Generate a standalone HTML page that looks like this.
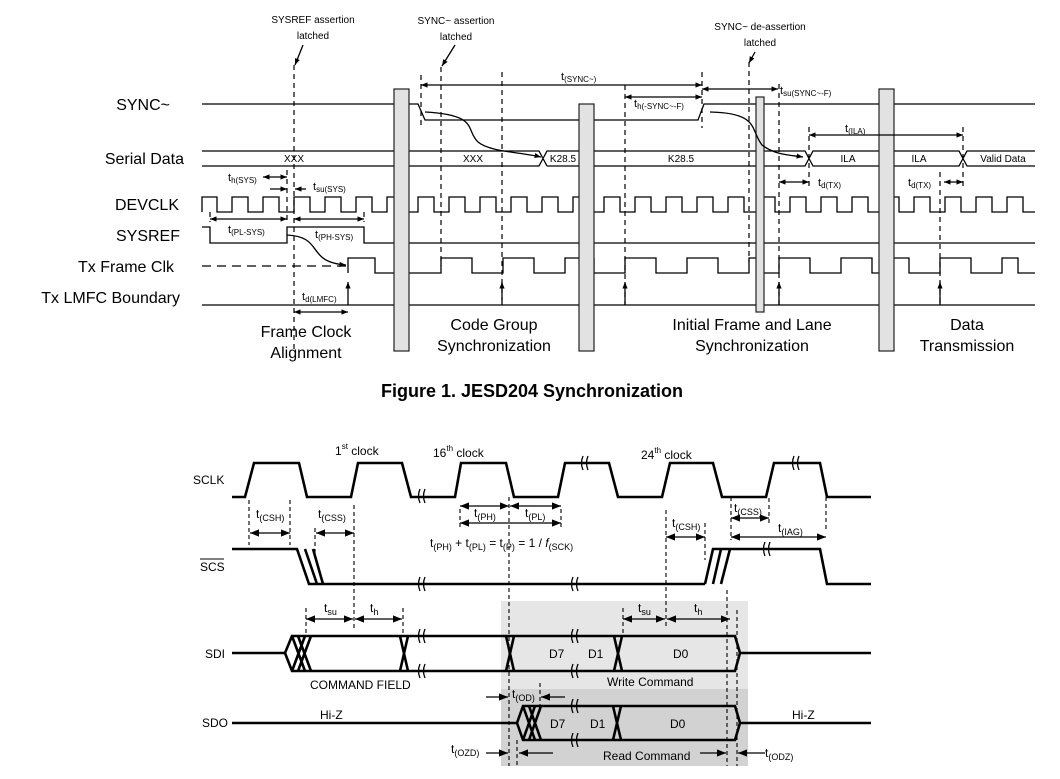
<!DOCTYPE html>
<html><head><meta charset="utf-8"><style>
html,body{margin:0;padding:0;background:#fff;}
svg{display:block;font-family:"Liberation Sans",Arial,sans-serif;}
</style></head><body>
<svg width="1060" height="779" viewBox="0 0 1060 779" xmlns="http://www.w3.org/2000/svg">
<defs>
<marker id="a" viewBox="0 0 10 10" refX="10" refY="5" markerWidth="7" markerHeight="7" orient="auto-start-reverse"><path d="M0,1 L10,5 L0,9 z" fill="#000"/></marker>
<marker id="b" viewBox="0 0 10 10" refX="10" refY="5" markerWidth="5" markerHeight="5" orient="auto-start-reverse"><path d="M0,1 L10,5 L0,9 z" fill="#000"/></marker>
</defs>
<g fill="#000" font-size="16" text-anchor="end">
<text x="170" y="110">SYNC~</text><text x="184" y="164">Serial Data</text><text x="179" y="210">DEVCLK</text>
<text x="180" y="241">SYSREF</text><text x="174" y="272">Tx Frame Clk</text><text x="180" y="303">Tx LMFC Boundary</text>
</g>
<g fill="none" stroke="#000" stroke-width="1.3">
<path d="M202,104 H394 M409,104 H418 L425,120 H579 M594,120 H698 L704,104 H756 M764,104 H879 M894,104 H1035"/>
<path d="M202,151 H394 M202,166 H394 M409,151 H539 L547,166 M409,166 H539 L547,151 H579 M547,166 H579 M594,151 H756 M594,166 H756 M764,151 H805 L813,166 H879 M764,166 H805 L813,151 H879 M894,151 H959 L967,166 H1035 M894,166 H959 L967,151 H1035"/>
<!-- DEVCLK -->
<path d="M202,212 V197 H217 V212 H232 V197 H248 V212 H263 V197 H279 V212 H294 V197 H310 V212 H325 V197 H341 V212 H356 V197 H372 V212 H387 V197 H394
M409,212 H418 V197 H434 V212 H449 V197 H465 V212 H480 V197 H496 V212 H511 V197 H527 V212 H542 V197 H558 V212 H573 V197 H579
M594,212 H604 V197 H620 V212 H635 V197 H651 V212 H666 V197 H682 V212 H697 V197 H713 V212 H728 V197 H744 V212 H756
M764,197 H775 V212 H790 V197 H806 V212 H821 V197 H837 V212 H852 V197 H868 V212 H879
M894,197 H899 V212 H914 V197 H930 V212 H945 V197 H961 V212 H976 V197 H992 V212 H1007 V197 H1023 V212 H1035"/>
<path d="M202,227 H210 V243 H287 V227 H364 V243 H394 M409,243 H579 M594,243 H756 M764,243 H879 M894,243 H1035"/>
<path d="M202,266 H347" stroke-dasharray="9,6"/>
<path d="M348,273 V258 H375 V273 H394 M409,273 H441 V258 H472 V273 H503 V258 H534 V273 H565 V258 H579 M594,258 H594 V273 H625 V258 H656 V273 H687 V258 H718 V273 H749 V258 H756 M764,273 H779 V258 H810 V273 H841 V258 H872 V273 H879 M894,258 H909 V273 H940 V258 H971 V273 H1002 V258 H1018 V273 H1035"/>
<path d="M202,305 H394 M409,305 H579 M594,305 H756 M764,305 H879 M894,305 H1035"/>
</g>
<g stroke="#000" stroke-width="1.2" stroke-dasharray="5,4" fill="none">
<path d="M294,65 V352 M421,75 V128 M441,67 V266 M502,72 V300 M625,85 V305 M702,72 V128 M749,62 V262 M779,84 V305 M809,127 V190 M940,172 V305 M963,127 V190 M287,170 V222 M210,212 V222 M364,212 V222"/>
</g>
<g fill="#e2e2e2" stroke="#222" stroke-width="1.2">
<rect x="394" y="89" width="15" height="262"/><rect x="579" y="104" width="15" height="247"/>
<rect x="756" y="97" width="8" height="215"/><rect x="879" y="89" width="15" height="262"/>
</g>
<g stroke="#000" stroke-width="1.3" fill="none" marker-start="url(#b)" marker-end="url(#b)">
<path d="M421,85 H702"/><path d="M625,97 H702"/><path d="M702,89 H778"/>
<path d="M809,135 H963"/><path d="M779,182 H809"/><path d="M944,182 H963"/>
<path d="M263,177 H287"/><path d="M210,219 H287"/><path d="M294,219 H364"/><path d="M294,312 H348"/>
</g>
<g stroke="#000" stroke-width="1.3" fill="none" marker-end="url(#b)">
<path d="M270,189 H287"/><path d="M306,189 H295"/>
<path d="M303,45 L295,65"/><path d="M455,45 L442,66"/><path d="M755,52 L749,63"/>
<path d="M348,305 V282"/><path d="M502,305 V282"/><path d="M625,305 V282"/><path d="M779,305 V282"/><path d="M940,305 V282"/>
<path d="M287,235 C325,237 305,262 346,265"/>
<path d="M425,112 C480,115 465,130 478,142 C490,152 520,152 541,157"/>
<path d="M710,112 C760,113 750,130 762,145 C775,155 790,155 803,157"/>
</g>
<g fill="#000" font-size="10" text-anchor="middle">
<text x="313" y="23">SYSREF assertion</text><text x="313" y="39">latched</text>
<text x="456" y="24">SYNC~ assertion</text><text x="456" y="40">latched</text>
<text x="760" y="30">SYNC~ de-assertion</text><text x="760" y="46">latched</text>
<text x="294" y="162">XXX</text><text x="473" y="162">XXX</text><text x="563" y="162">K28.5</text><text x="681" y="162">K28.5</text>
<text x="848" y="162">ILA</text><text x="919" y="162">ILA</text><text x="1003" y="162">Valid Data</text>
</g>
<g fill="#000" font-size="11">
<text x="561" y="80">t<tspan font-size="8" dy="2">(SYNC~)</tspan></text>
<text x="634" y="107">t<tspan font-size="8" dy="2">h(-SYNC~-F)</tspan></text>
<text x="780" y="94">t<tspan font-size="8" dy="2">su(SYNC~-F)</tspan></text>
<text x="845" y="132">t<tspan font-size="8" dy="2">(ILA)</tspan></text>
<text x="818" y="186">t<tspan font-size="8" dy="2">d(TX)</tspan></text>
<text x="908" y="186">t<tspan font-size="8" dy="2">d(TX)</tspan></text>
<text x="228" y="181">t<tspan font-size="8" dy="2">h(SYS)</tspan></text>
<text x="313" y="190">t<tspan font-size="8" dy="2">su(SYS)</tspan></text>
<text x="228" y="233">t<tspan font-size="8" dy="2">(PL-SYS)</tspan></text>
<text x="315" y="238">t<tspan font-size="8" dy="2">(PH-SYS)</tspan></text>
<text x="302" y="300">t<tspan font-size="8" dy="2">d(LMFC)</tspan></text>
</g>
<g fill="#000" font-size="16" text-anchor="middle">
<text x="306" y="337">Frame Clock</text><text x="306" y="358">Alignment</text>
<text x="494" y="330">Code Group</text><text x="494" y="351">Synchronization</text>
<text x="752" y="330">Initial Frame and Lane</text><text x="752" y="351">Synchronization</text>
<text x="967" y="330">Data</text><text x="967" y="351">Transmission</text>
<text x="532" y="397" font-size="18" font-weight="bold">Figure 1.  JESD204 Synchronization</text>
</g>

<rect x="501" y="601" width="247" height="89" fill="#e6e6e6"/>
<rect x="501" y="689" width="247" height="77" fill="#d2d2d2"/>
<g fill="#000" font-size="12">
<text x="193" y="484">SCLK</text>
<text x="200" y="571">SCS</text>
<text x="205" y="658">SDI</text>
<text x="202" y="727">SDO</text>
</g>
<path d="M200,559 H224" stroke="#000" stroke-width="1"/>
<g fill="none" stroke="#000" stroke-width="2.6" stroke-linejoin="miter">
<path d="M232,497 H245 L254,463 H299 L307,497 H351 L358,463 H402 L411,497 H455 L461,463 H506 L514,497 H558 L565,463 H609 L618,497 H662 L670,463 H713 L722,497 H766 L774,463 H820 L827,497 H871"/>
<path d="M232,549 H297 L309,584 H705 M305,549 L317,584 M313,549 L323,584 M705,584 L713,549 H820 L827,584 H871 M713,584 L721,549 M721,584 L730,549"/>
<path d="M232,653 H285 L292,636 H735 L740,653 L735,671 H292 L285,653 M740,653 H871"/>
<path d="M292,636 L305,671 M292,671 L305,636 M298,636 L311,671 M298,671 L311,636 M400,636 L408,671 M400,671 L408,636 M506,636 L514,671 M506,671 L514,636 M614,636 L622,671 M614,671 L622,636"/>
<path d="M232,723 H517 L523,706 H735 L740,723 L735,740 H523 L517,723 M740,723 H871"/>
<path d="M523,706 L535,740 M523,740 L535,706 M529,706 L541,740 M529,740 L541,706 M613,706 L621,740 M613,740 L621,706"/>
</g>
<g fill="none" stroke="#000" stroke-width="1.3">
<path d="M420,489 q-3,7 0,14 M425,489 q-3,7 0,14 M583,456 q-3,7 0,14 M588,456 q-3,7 0,14 M794,456 q-3,7 0,14 M799,456 q-3,7 0,14"/>
<path d="M420,577 q-3,7 0,14 M425,577 q-3,7 0,14 M573,577 q-3,7 0,14 M578,577 q-3,7 0,14 M765,542 q-3,7 0,14 M770,542 q-3,7 0,14"/>
<path d="M420,629 q-3,7 0,14 M425,629 q-3,7 0,14 M420,664 q-3,7 0,14 M425,664 q-3,7 0,14 M573,629 q-3,7 0,14 M578,629 q-3,7 0,14 M573,664 q-3,7 0,14 M578,664 q-3,7 0,14"/>
<path d="M573,699 q-3,7 0,14 M578,699 q-3,7 0,14 M573,733 q-3,7 0,14 M578,733 q-3,7 0,14"/>
</g>
<g stroke="#000" stroke-width="1.1" stroke-dasharray="4,3" fill="none">
<path d="M249,500 V545 M290,500 V545 M315,528 V558 M354,505 V628 M403,608 V636 M306,608 V636 M460,509 V528 M561,509 V528 M509,497 V766 M666,510 V628 M705,523 V560 M623,608 V636 M731,497 V540 M769,498 V523 M826,497 V530 M727,590 V766 M737,610 V766 M540,683 V712 M517,740 V766"/>
</g>
<g stroke="#000" stroke-width="1.3" fill="none" marker-start="url(#a)" marker-end="url(#a)">
<path d="M250,533 H290"/><path d="M316,533 H354"/><path d="M460,506 H509"/><path d="M510,506 H561"/><path d="M460,523 H561"/>
<path d="M306,619 H353"/><path d="M355,619 H402"/><path d="M623,619 H665"/><path d="M667,619 H730"/>
<path d="M666,537 H705"/><path d="M731,518 H769"/><path d="M731,537 H826"/>
</g>
<g stroke="#000" stroke-width="1.3" fill="none" marker-end="url(#a)">
<path d="M486,697 H508"/><path d="M565,697 H541"/>
<path d="M486,753 H508"/><path d="M553,753 H519"/>
<path d="M700,753 H726"/><path d="M765,753 H738"/>
</g>
<g fill="#000" font-size="12">
<text x="335" y="455">1<tspan font-size="8" dy="-6">st</tspan><tspan dy="6"> clock</tspan></text>
<text x="433" y="457">16<tspan font-size="8" dy="-6">th</tspan><tspan dy="6"> clock</tspan></text>
<text x="641" y="459">24<tspan font-size="8" dy="-6">th</tspan><tspan dy="6"> clock</tspan></text>
<text x="256" y="518">t<tspan font-size="9" dy="3">(CSH)</tspan></text>
<text x="318" y="518">t<tspan font-size="9" dy="3">(CSS)</tspan></text>
<text x="474" y="517">t<tspan font-size="9" dy="3">(PH)</tspan></text>
<text x="525" y="517">t<tspan font-size="9" dy="3">(PL)</tspan></text>
<text x="430" y="547">t<tspan font-size="9" dy="3">(PH)</tspan><tspan dy="-3"> + t</tspan><tspan font-size="9" dy="3">(PL)</tspan><tspan dy="-3"> = t</tspan><tspan font-size="9" dy="3">(P)</tspan><tspan dy="-3"> = 1 / </tspan><tspan font-style="italic">f</tspan><tspan font-size="9" dy="3">(SCK)</tspan></text>
<text x="324" y="612">t<tspan font-size="9" dy="3">su</tspan></text>
<text x="370" y="612">t<tspan font-size="9" dy="3">h</tspan></text>
<text x="638" y="612">t<tspan font-size="9" dy="3">su</tspan></text>
<text x="694" y="612">t<tspan font-size="9" dy="3">h</tspan></text>
<text x="672" y="527">t<tspan font-size="9" dy="3">(CSH)</tspan></text>
<text x="734" y="512">t<tspan font-size="9" dy="3">(CSS)</tspan></text>
<text x="778" y="532">t<tspan font-size="9" dy="3">(IAG)</tspan></text>
<text x="512" y="698">t<tspan font-size="9" dy="3">(OD)</tspan></text>
<text x="451" y="753">t<tspan font-size="9" dy="3">(OZD)</tspan></text>
<text x="765" y="757">t<tspan font-size="9" dy="3">(ODZ)</tspan></text>
<text x="549" y="658">D7</text><text x="588" y="658">D1</text><text x="673" y="658">D0</text>
<text x="550" y="728">D7</text><text x="590" y="728">D1</text><text x="670" y="728">D0</text>
<text x="310" y="689">COMMAND FIELD</text>
<text x="607" y="686">Write Command</text>
<text x="603" y="760">Read Command</text>
<text x="320" y="719">Hi-Z</text>
<text x="792" y="719">Hi-Z</text>
</g>
</svg>
</body></html>
